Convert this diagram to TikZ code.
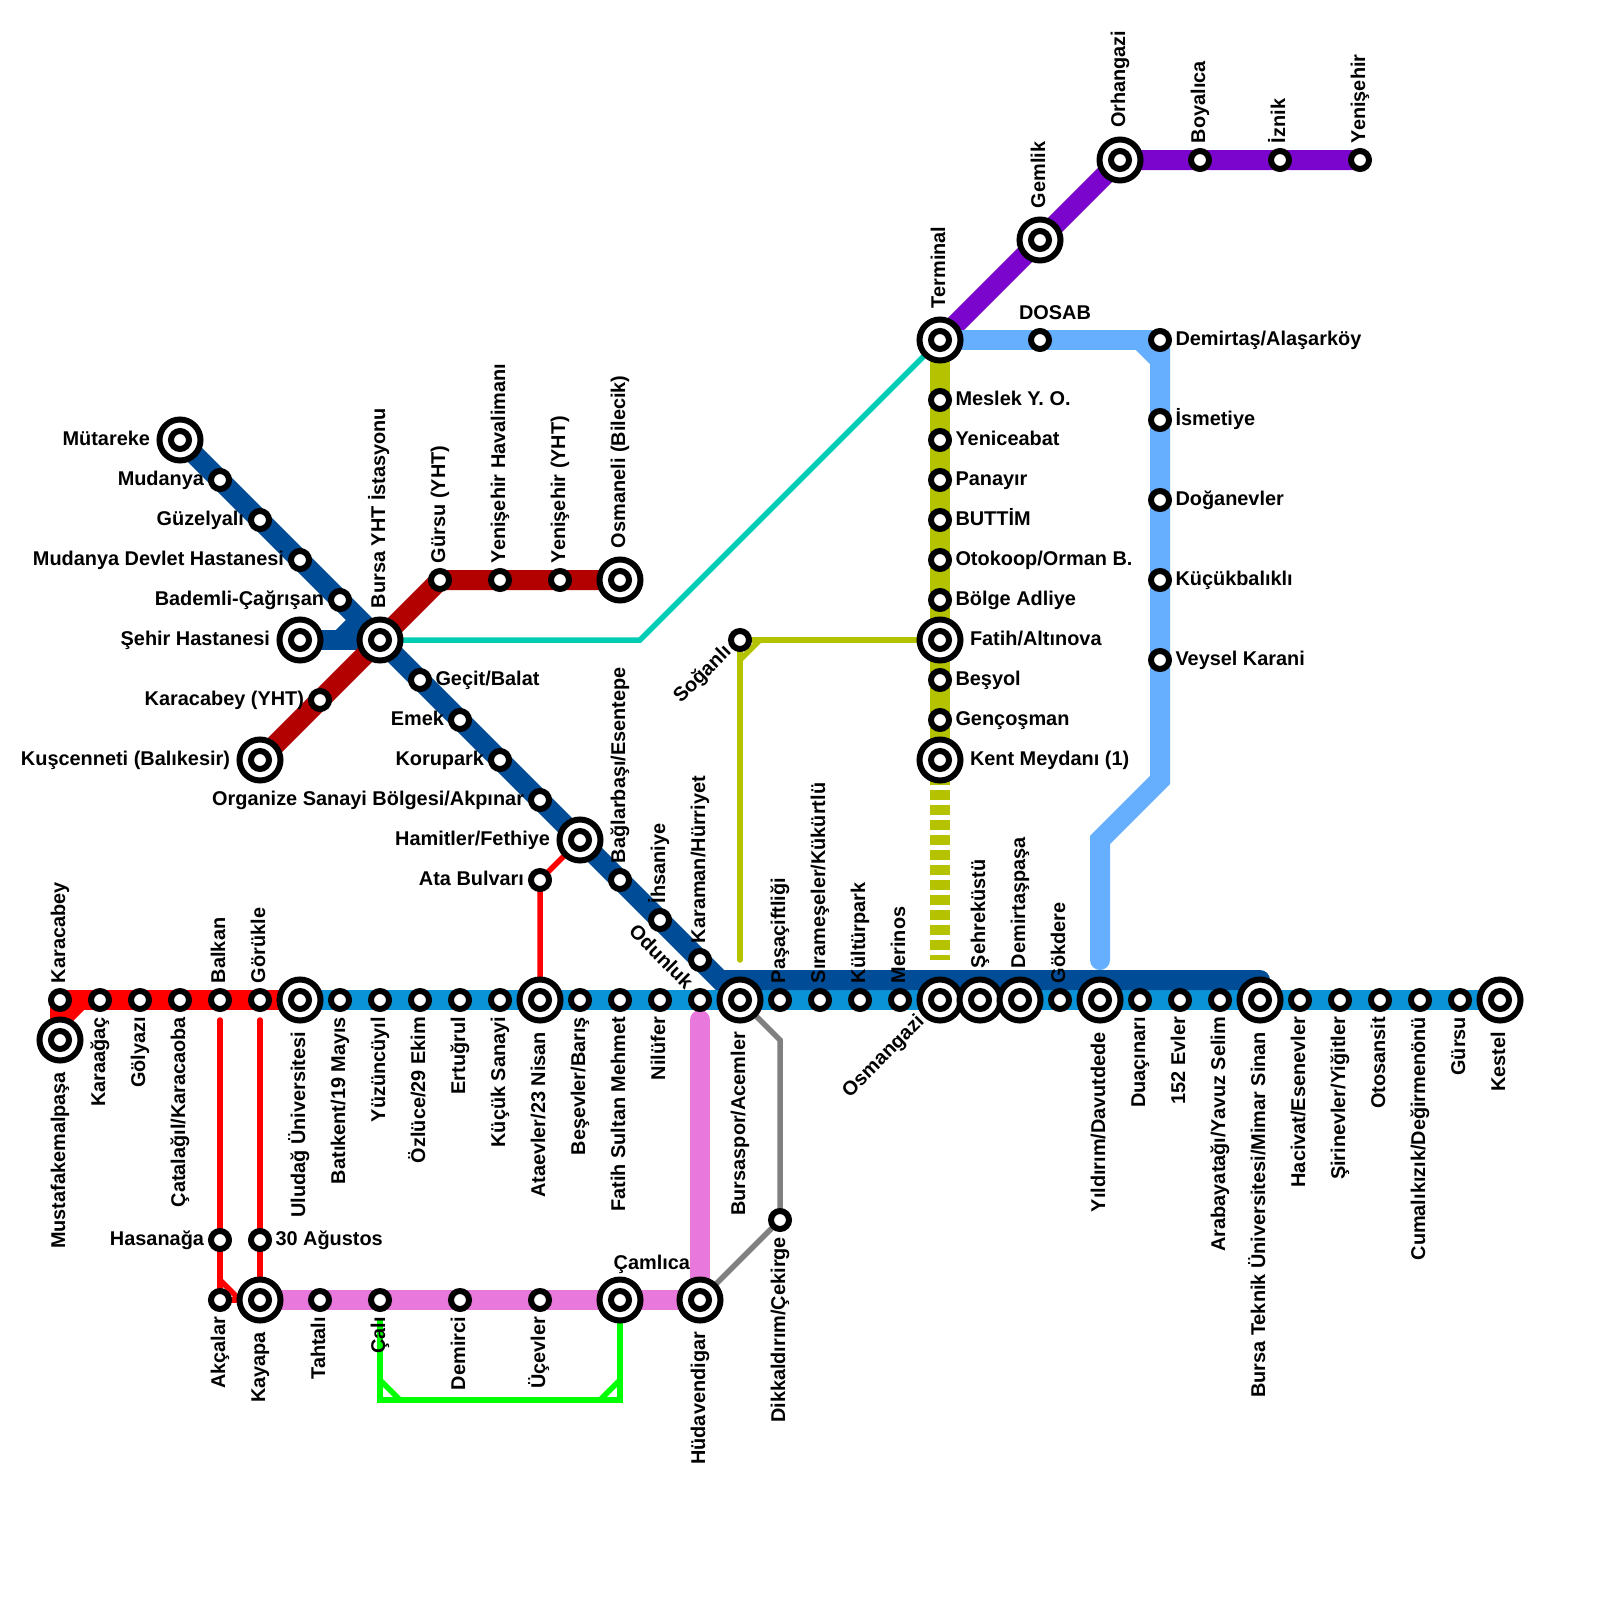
\documentclass[tikz,border=0pt]{standalone}
\usepackage{fontspec}
\setmainfont{Liberation Sans}[BoldFont={Liberation Sans Bold}]
\pgfdeclarelayer{linelayer}
\pgfsetlayers{linelayer,main}
\definecolor{cRed}{HTML}{FF0000}
\definecolor{cMain}{HTML}{0A93D6}
\definecolor{cNavy}{HTML}{004C97}
\definecolor{cMaroon}{HTML}{B30000}
\definecolor{cPurple}{HTML}{7B05CC}
\definecolor{cSky}{HTML}{66AFFF}
\definecolor{cOlive}{HTML}{B5C200}
\definecolor{cTeal}{HTML}{00CDB4}
\definecolor{cGray}{HTML}{808080}
\definecolor{cPink}{HTML}{E878DC}
\definecolor{cGreen}{HTML}{00FF00}
\tikzset{
  stop/.style={circle,draw=black,fill=white,line width=6pt,minimum size=18pt,inner sep=0pt},
  hub/.style={circle,draw=black,fill=white,line width=6pt,minimum size=41pt,inner sep=0pt,
    path picture={\draw[line width=6pt] (path picture bounding box.center) circle (9pt);}},
  txt/.style={font=\fontsize{19.9}{19.9}\selectfont\bfseries,inner sep=0pt,outer sep=0pt},
  lbT/.style={txt,xshift=5pt,yshift=17pt,rotate=90,anchor=base west},
  lbTh/.style={txt,xshift=5pt,yshift=32pt,rotate=90,anchor=base west},
  lbB/.style={txt,xshift=5pt,yshift=-17pt,rotate=90,anchor=base east},
  lbBh/.style={txt,xshift=5pt,yshift=-32pt,rotate=90,anchor=base east},
  lbR/.style={txt,xshift=15.5pt,yshift=-5pt,anchor=base west},
  lbRh/.style={txt,xshift=30pt,yshift=-5pt,anchor=base west},
  lbL/.style={txt,xshift=-16pt,yshift=-5pt,anchor=base east},
  lbLh/.style={txt,xshift=-30pt,yshift=-5pt,anchor=base east},
  lbTc/.style={txt,xshift=15pt,yshift=21pt,anchor=base},
  lbCam/.style={txt,xshift=70pt,yshift=31pt,anchor=base east},
  lbSog/.style={txt,xshift=-8pt,yshift=-13pt,rotate=45,anchor=base east},
  lbOsm/.style={txt,xshift=-15pt,yshift=-23pt,rotate=45,anchor=base east},
  lbOdu/.style={txt,xshift=-15pt,yshift=10pt,rotate=-45,anchor=base east},
  wide/.style={line width=20pt},
  thin line/.style={line width=5.5pt},
}
\newcommand{\Stn}[6]{\node[#1] (#2) at (#3,#4) {}; \node[#5] (#2-l) at (#3,#4) {#6};}
\begin{document}
\begin{tikzpicture}[x=1pt,y=-1pt]
\useasboundingbox (0,0) rectangle (1600,1600);
% main line
\Stn{stop}{karacabey}{60}{1000}{lbT}{Karacabey}
\Stn{hub}{mustafa}{60}{1040}{lbBh}{Mustafakemalpaşa}
\Stn{stop}{karaagac}{100}{1000}{lbB}{Karaağaç}
\Stn{stop}{golyazi}{140}{1000}{lbB}{Gölyazı}
\Stn{stop}{catalagil}{180}{1000}{lbB}{Çatalağıl/Karacaoba}
\Stn{stop}{balkan}{220}{1000}{lbT}{Balkan}
\Stn{stop}{gorukle}{260}{1000}{lbT}{Görükle}
\Stn{hub}{uludag}{300}{1000}{lbBh}{Uludağ Üniversitesi}
\Stn{stop}{batikent}{340}{1000}{lbB}{Batıkent/19 Mayıs}
\Stn{stop}{yuzuncu}{380}{1000}{lbB}{Yüzüncüyıl}
\Stn{stop}{ozluce}{420}{1000}{lbB}{Özlüce/29 Ekim}
\Stn{stop}{ertugrul}{460}{1000}{lbB}{Ertuğrul}
\Stn{stop}{kucuksan}{500}{1000}{lbB}{Küçük Sanayi}
\Stn{hub}{ataevler}{540}{1000}{lbBh}{Ataevler/23 Nisan}
\Stn{stop}{besevler}{580}{1000}{lbB}{Beşevler/Barış}
\Stn{stop}{fsm}{620}{1000}{lbB}{Fatih Sultan Mehmet}
\Stn{stop}{nilufer}{660}{1000}{lbB}{Nilüfer}
\Stn{stop}{odunluk}{700}{1000}{lbOdu}{Odunluk}
\Stn{hub}{bursaspor}{740}{1000}{lbBh}{Bursaspor/Acemler}
\Stn{stop}{pasa}{780}{1000}{lbT}{Paşaçiftliği}
\Stn{stop}{sira}{820}{1000}{lbT}{Sırameşeler/Kükürtlü}
\Stn{stop}{kultur}{860}{1000}{lbT}{Kültürpark}
\Stn{stop}{merinos}{900}{1000}{lbT}{Merinos}
\Stn{hub}{osman}{940}{1000}{lbOsm}{Osmangazi}
\Stn{hub}{sehre}{980}{1000}{lbTh}{Şehreküstü}
\Stn{hub}{demirtasp}{1020}{1000}{lbTh}{Demirtaşpaşa}
\Stn{stop}{gokdere}{1060}{1000}{lbT}{Gökdere}
\Stn{hub}{yildirim}{1100}{1000}{lbBh}{Yıldırım/Davutdede}
\Stn{stop}{duacinari}{1140}{1000}{lbB}{Duaçınarı}
\Stn{stop}{evler}{1180}{1000}{lbB}{152 Evler}
\Stn{stop}{araba}{1220}{1000}{lbB}{Arabayatağı/Yavuz Selim}
\Stn{hub}{btu}{1260}{1000}{lbBh}{Bursa Teknik Üniversitesi/Mimar Sinan}
\Stn{stop}{hacivat}{1300}{1000}{lbB}{Hacivat/Esenevler}
\Stn{stop}{sirinevler}{1340}{1000}{lbB}{Şirinevler/Yiğitler}
\Stn{stop}{otosansit}{1380}{1000}{lbB}{Otosansit}
\Stn{stop}{cumali}{1420}{1000}{lbB}{Cumalıkızık/Değirmenönü}
\Stn{stop}{gursu}{1460}{1000}{lbB}{Gürsu}
\Stn{hub}{kestel}{1500}{1000}{lbBh}{Kestel}
% navy diagonal
\Stn{hub}{mutareke}{180}{440}{lbLh}{Mütareke}
\Stn{stop}{mudanya}{220}{480}{lbL}{Mudanya}
\Stn{stop}{guzelyali}{260}{520}{lbL}{Güzelyalı}
\Stn{stop}{mudanyadh}{300}{560}{lbL}{Mudanya Devlet Hastanesi}
\Stn{stop}{bademli}{340}{600}{lbL}{Bademli-Çağrışan}
\Stn{hub}{sehirh}{300}{640}{lbLh}{Şehir Hastanesi}
\Stn{hub}{bursayht}{380}{640}{lbTh}{Bursa YHT İstasyonu}
\Stn{stop}{gecit}{420}{680}{lbR}{Geçit/Balat}
\Stn{stop}{emek}{460}{720}{lbL}{Emek}
\Stn{stop}{korupark}{500}{760}{lbL}{Korupark}
\Stn{stop}{osb}{540}{800}{lbL}{Organize Sanayi Bölgesi/Akpınar}
\Stn{hub}{hamitler}{580}{840}{lbLh}{Hamitler/Fethiye}
\Stn{stop}{baglar}{620}{880}{lbT}{Bağlarbaşı/Esentepe}
\Stn{stop}{ihsaniye}{660}{920}{lbT}{İhsaniye}
\Stn{stop}{karaman}{700}{960}{lbT}{Karaman/Hürriyet}
\Stn{stop}{atabul}{540}{880}{lbL}{Ata Bulvarı}
% maroon
\Stn{hub}{kuscenneti}{260}{760}{lbLh}{Kuşcenneti (Balıkesir)}
\Stn{stop}{karacabeyyht}{320}{700}{lbL}{Karacabey (YHT)}
\Stn{stop}{gursuyht}{440}{580}{lbT}{Gürsu (YHT)}
\Stn{stop}{yenihava}{500}{580}{lbT}{Yenişehir Havalimanı}
\Stn{stop}{yeniyht}{560}{580}{lbT}{Yenişehir (YHT)}
\Stn{hub}{osmaneli}{620}{580}{lbTh}{Osmaneli (Bilecik)}
% purple, sky
\Stn{hub}{terminal}{940}{340}{lbTh}{Terminal}
\Stn{hub}{gemlik}{1040}{240}{lbTh}{Gemlik}
\Stn{hub}{orhangazi}{1120}{160}{lbTh}{Orhangazi}
\Stn{stop}{boyalica}{1200}{160}{lbT}{Boyalıca}
\Stn{stop}{iznik}{1280}{160}{lbT}{İznik}
\Stn{stop}{yenisehir}{1360}{160}{lbT}{Yenişehir}
\Stn{stop}{dosab}{1040}{340}{lbTc}{DOSAB}
\Stn{stop}{demirtas}{1160}{340}{lbR}{Demirtaş/Alaşarköy}
\Stn{stop}{ismetiye}{1160}{420}{lbR}{İsmetiye}
\Stn{stop}{doganevler}{1160}{500}{lbR}{Doğanevler}
\Stn{stop}{kucukbal}{1160}{580}{lbR}{Küçükbalıklı}
\Stn{stop}{veysel}{1160}{660}{lbR}{Veysel Karani}
% olive
\Stn{stop}{meslek}{940}{400}{lbR}{Meslek Y. O.}
\Stn{stop}{yeniceabat}{940}{440}{lbR}{Yeniceabat}
\Stn{stop}{panayir}{940}{480}{lbR}{Panayır}
\Stn{stop}{buttim}{940}{520}{lbR}{BUTTİM}
\Stn{stop}{otokoop}{940}{560}{lbR}{Otokoop/Orman B.}
\Stn{stop}{bolge}{940}{600}{lbR}{Bölge Adliye}
\Stn{hub}{fatih}{940}{640}{lbRh}{Fatih/Altınova}
\Stn{stop}{besyol}{940}{680}{lbR}{Beşyol}
\Stn{stop}{gencosman}{940}{720}{lbR}{Gençoşman}
\Stn{hub}{kent}{940}{760}{lbRh}{Kent Meydanı (1)}
\Stn{stop}{soganli}{740}{640}{lbSog}{Soğanlı}
% south branch
\Stn{stop}{hasanaga}{220}{1240}{lbL}{Hasanağa}
\Stn{stop}{agustos}{260}{1240}{lbR}{30 Ağustos}
\Stn{stop}{akcalar}{220}{1300}{lbB}{Akçalar}
\Stn{hub}{kayapa}{260}{1300}{lbBh}{Kayapa}
\Stn{stop}{tahtali}{320}{1300}{lbB}{Tahtalı}
\Stn{stop}{cali}{380}{1300}{lbB}{Çalı}
\Stn{stop}{demirci}{460}{1300}{lbB}{Demirci}
\Stn{stop}{ucevler}{540}{1300}{lbB}{Üçevler}
\Stn{hub}{camlica}{620}{1300}{lbCam}{Çamlıca}
\Stn{hub}{hudavend}{700}{1300}{lbBh}{Hüdavendigar}
\Stn{stop}{dikkal}{780}{1220}{lbB}{Dikkaldırım/Çekirge}
% free coordinates
\coordinate (navyA) at (720,980);
\coordinate (navyB) at (1260,980);
\coordinate (navyC) at (340,640);
\coordinate (navyD) at (360,620);
\coordinate (redA) at (80,1000);
\coordinate (redB) at (60,1020);
\coordinate (redC) at (220,1020);
\coordinate (redD) at (260,1020);
\coordinate (redE) at (220,1280);
\coordinate (redF) at (240,1300);
\coordinate (maroonA) at (440,580);
\coordinate (tealA) at (640,640);
\coordinate (skyA) at (1140,340);
\coordinate (skyB) at (1160,360);
\coordinate (skyC) at (1160,780);
\coordinate (skyD) at (1100,840);
\coordinate (skyE) at (1100,960);
\coordinate (oliveEnd) at (940,960);
\coordinate (thinA) at (760,640);
\coordinate (thinB) at (740,660);
\coordinate (thinC) at (740,960);
\coordinate (grayA) at (780,1040);
\coordinate (pinkA) at (700,1020);
\coordinate (greenA) at (380,1320);
\coordinate (greenB) at (380,1400);
\coordinate (greenC) at (620,1400);
\coordinate (greenD) at (380,1380);
\coordinate (greenE) at (400,1400);
\coordinate (greenF) at (600,1400);
\coordinate (greenG) at (620,1380);
\begin{pgfonlayer}{linelayer}
\draw[cMain,wide] (uludag.center) -- (kestel.center);
\draw[cNavy,wide,line cap=round] (mutareke.center) -- (navyA) -- (navyB);
\draw[cNavy,wide] (sehirh.center) -- (bursayht.center);
\draw[cNavy,wide] (navyC) -- (navyD);
\draw[cRed,wide] (karacabey.center) -- (uludag.center);
\draw[cRed,wide] (karacabey.center) -- (mustafa.center);
\draw[cRed,wide] (redA) -- (redB);
\draw[cMaroon,wide] (kuscenneti.center) -- (maroonA) -- (osmaneli.center);
\draw[cPurple,wide] (terminal.center) -- (orhangazi.center) -- (yenisehir.center);
\draw[cSky,wide] (terminal.center) -- (demirtas.center);
\draw[cSky,wide] (skyA) -- (skyB);
\draw[cSky,wide,line cap=round] (demirtas.center) -- (skyC) -- (skyD) -- (skyE);
\draw[cOlive,wide] (terminal.center) -- (kent.center);
\draw[cOlive,wide,dash pattern=on 10pt off 5pt] (kent.center) -- (oliveEnd);
\draw[cPink,wide,line cap=round] (kayapa.center) -- (hudavend.center) -- (pinkA);
\draw[cTeal,thin line] (bursayht.center) -- (tealA) -- (terminal.center);
\draw[cOlive,thin line] (fatih.center) -- (soganli.center);
\draw[cOlive,thin line,line cap=round] (soganli.center) -- (thinC);
\draw[cOlive,thin line] (thinA) -- (thinB);
\draw[cGray,thin line] (bursaspor.center) -- (grayA) -- (dikkal.center) -- (hudavend.center);
\draw[cRed,thin line,line cap=round] (redC) -- (akcalar.center);
\draw[cRed,thin line,line cap=round] (redD) -- (kayapa.center);
\draw[cRed,thin line] (redE) -- (redF);
\draw[cRed,thin line] (akcalar.center) -- (kayapa.center);
\draw[cRed,thin line] (hamitler.center) -- (atabul.center) -- (ataevler.center);
\draw[cGreen,thin line] (greenA) -- (greenB) -- (greenC) -- (camlica.center);
\draw[cGreen,thin line] (greenD) -- (greenE);
\draw[cGreen,thin line] (greenF) -- (greenG);
\end{pgfonlayer}
\end{tikzpicture}
\end{document}
